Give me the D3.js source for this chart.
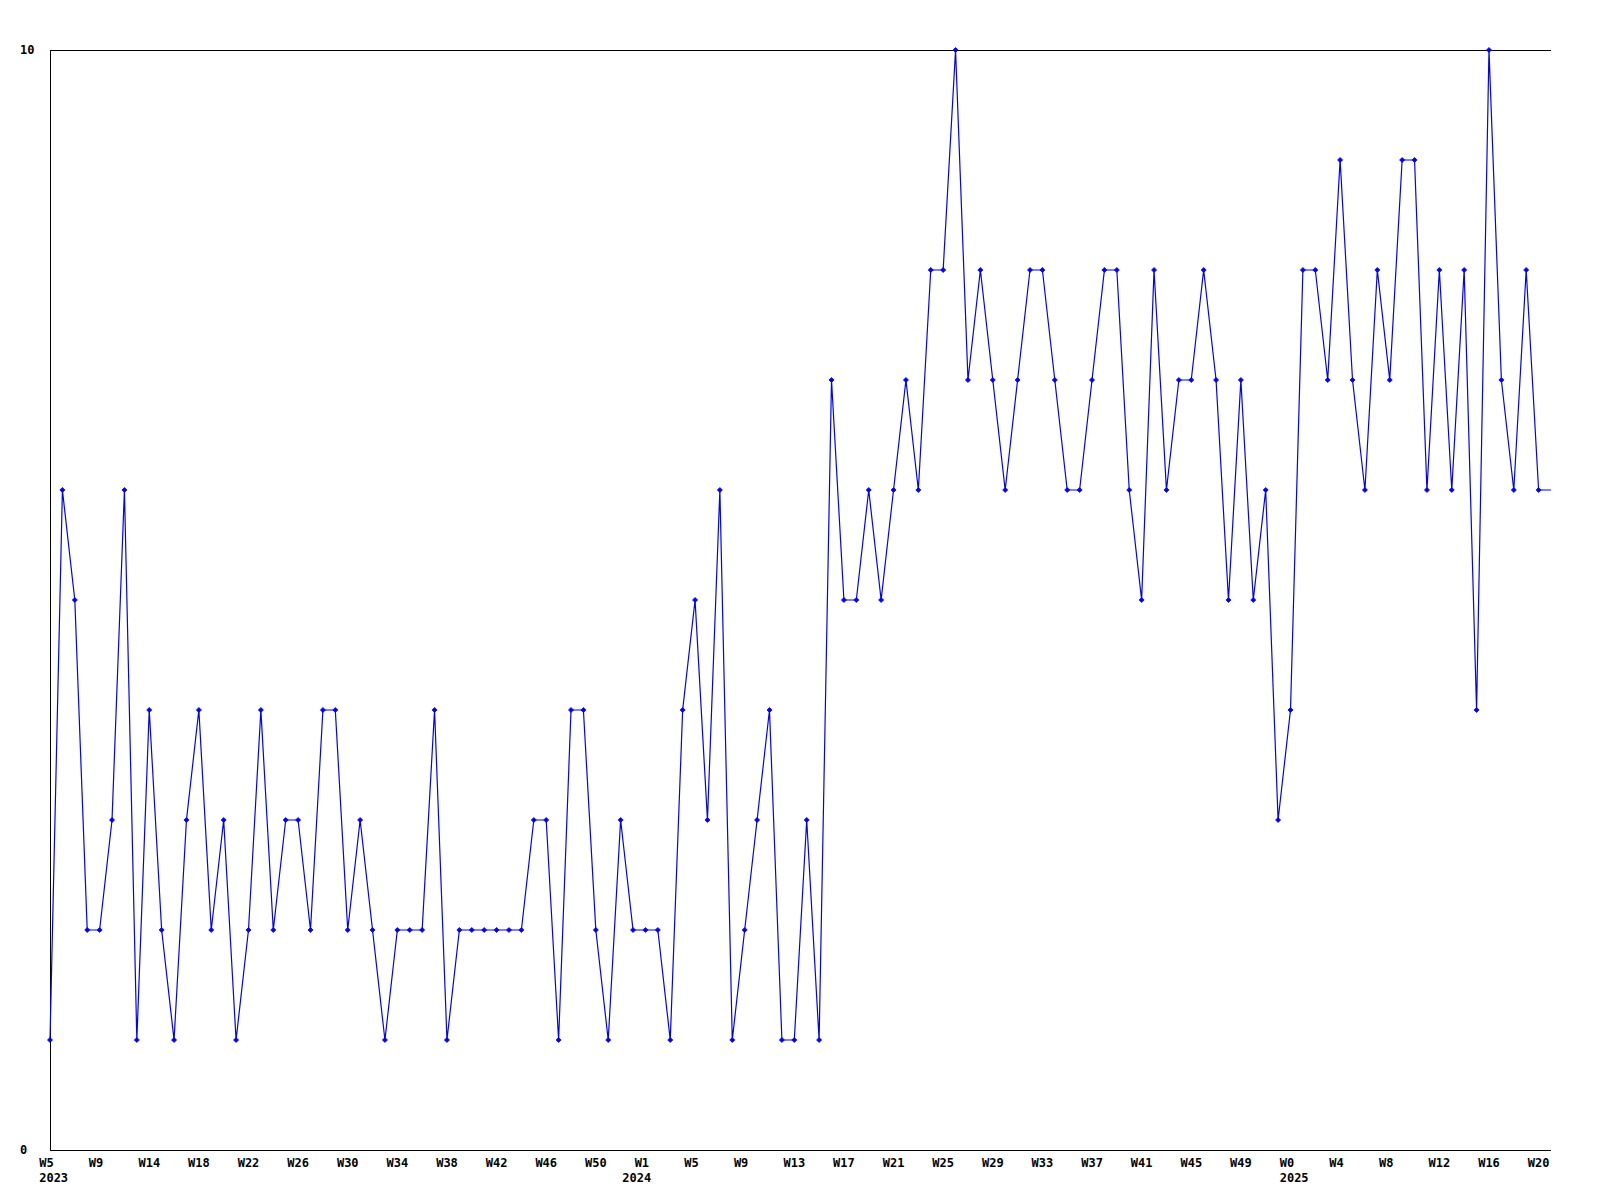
<!DOCTYPE html>
<html>
<head>
<meta charset="utf-8">
<script src="https://cdn.jsdelivr.net/npm/d3@7/dist/d3.min.js"></script>
<style>
html,body{margin:0;padding:0;background:#fff;}
svg text{font-family:"DejaVu Sans Mono","Liberation Mono",monospace;font-weight:bold;font-size:12px;fill:#000;}
</style>
</head>
<body>
<svg id="chart" width="1600" height="1200"></svg>
<script>
// Weekly values, starting at week 5 of 2023 (last entry: line carried to the right edge, no marker)
const values = [1,6,5,2,2,3,6,1,4,2,1,3,4,2,3,1,2,4,2,3,3,2,4,4,2,3,2,1,2,2,2,4,1,2,2,2,2,2,2,3,3,1,4,4,2,1,3,2,2,2,1,4,5,3,6,1,2,3,4,1,1,3,1,7,5,5,6,5,6,7,6,8,8,10,7,8,7,6,7,8,8,7,6,6,7,8,8,6,5,8,6,7,7,8,7,5,7,5,6,3,4,8,8,7,9,7,6,8,7,9,9,6,8,6,8,4,10,7,6,8,6,6];
// Tick labels placed on every 4th week
const weekTicks = ["W5","W9","W14","W18","W22","W26","W30","W34","W38","W42","W46","W50","W1","W5","W9","W13","W17","W21","W25","W29","W33","W37","W41","W45","W49","W0","W4","W8","W12","W16","W20"];
// year labels at the first week of each year (index into values)
const yearLabels = [{week:0,label:"2023"},{week:47,label:"2024"},{week:100,label:"2025"}];
const yTicks = [0,10];

(function(){
const svg = d3.select("#chart");
const mLeft = 50, mRight = 1551, mTop = 50, mBottom = 1150;

const x = d3.scaleLinear().domain([0, values.length - 1]).range([mLeft, mRight]);
const y = d3.scaleLinear().domain([0, 10]).range([mBottom, mTop]);

// frame lines: top (max gridline), left axis, bottom axis
svg.append("line").attr("x1", mLeft).attr("x2", mRight).attr("y1", y(10)+0.5).attr("y2", y(10)+0.5)
  .attr("stroke", "#000").attr("shape-rendering","crispEdges");
svg.append("line").attr("x1", mLeft+0.5).attr("x2", mLeft+0.5).attr("y1", mTop).attr("y2", mBottom)
  .attr("stroke", "#000").attr("shape-rendering","crispEdges");
svg.append("line").attr("x1", mLeft).attr("x2", mRight).attr("y1", y(0)+0.5).attr("y2", y(0)+0.5)
  .attr("stroke", "#000").attr("shape-rendering","crispEdges");

// y labels
svg.selectAll("text.ylab").data(yTicks).enter().append("text")
  .attr("class","ylab")
  .attr("x", 20)
  .attr("y", d => y(d))
  .attr("dy", "0.35em")
  .text(d => d);

// x labels
const charW = 7.2;
svg.selectAll("text.xlab").data(weekTicks).enter().append("text")
  .attr("class","xlab")
  .attr("x", (d,i) => x(i*4) - 1.5*charW)
  .attr("y", 1167)
  .text(d => d);
svg.selectAll("text.yr").data(yearLabels).enter().append("text")
  .attr("class","yr")
  .attr("x", d => x(d.week) - 1.5*charW)
  .attr("y", 1182)
  .text(d => d.label);

// line
const line = d3.line().x((d,i) => x(i)).y(d => y(d));
svg.append("path").datum(values)
  .attr("d", line)
  .attr("fill", "none")
  .attr("stroke", "#0000ff")
  .attr("stroke-width", 1.2);

// markers (all but the final edge point)
const marker = "M-2.5,0L0,-2.5L2.5,0L0,2.5Z";
svg.selectAll("path.mk").data(values.slice(0, values.length - 1)).enter().append("path")
  .attr("class","mk")
  .attr("transform", (d,i) => `translate(${x(i)},${y(d)})`)
  .attr("d", marker)
  .attr("fill", "#0000ff")
  .attr("stroke", "#0000ff")
  .attr("stroke-width", 0.8);
})();
</script>
</body>
</html>
